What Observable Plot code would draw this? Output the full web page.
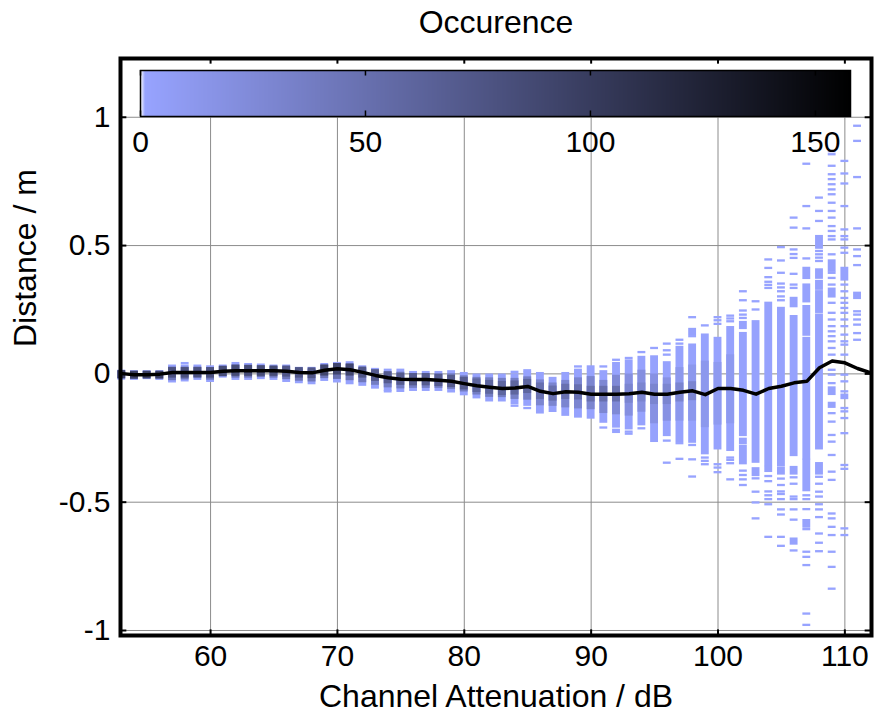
<!DOCTYPE html>
<html>
<head>
<meta charset="utf-8">
<script src="https://cdn.jsdelivr.net/npm/d3@7"></script>
<script src="https://cdn.jsdelivr.net/npm/@observablehq/plot@0.6"></script>
<style>
  body { margin: 0; background: #fff; }
  #wrap { position: relative; width: 874px; height: 714px; }
  #wrap svg { position: absolute; left: 0; top: 0; }
</style>
</head>
<body>
<div id="wrap"></div>
<script>
// ---------- data ----------
const titleText = "Occurence";
const xLabel = "Channel Attenuation / dB";
const yLabel = "Distance / m";
const xTicks = [60, 70, 80, 90, 100, 110];
const yTicks = [-1, -0.5, 0, 0.5, 1];
const colorTicks = [0, 50, 100, 150];

// mean distance per attenuation bin
const meanAtten = [53,54,55,56,57,58,59,60,61,62,63,64,65,66,67,68,69,70,71,72,73,74,75,76,77,78,79,80,81,82,83,84,85,86,87,88,89,90,91,92,93,94,95,96,97,98,99,100,101,102,103,104,105,106,107,108,109,110,111,112];
const meanDistance = [0.001,-0.003,-0.003,-0.001,0.005,0.005,0.005,0.005,0.010,0.012,0.012,0.012,0.012,0.010,0.005,0.004,0.014,0.020,0.016,0.006,-0.006,-0.015,-0.021,-0.022,-0.022,-0.025,-0.029,-0.038,-0.046,-0.052,-0.057,-0.055,-0.049,-0.068,-0.077,-0.070,-0.072,-0.079,-0.079,-0.079,-0.077,-0.072,-0.079,-0.079,-0.072,-0.066,-0.081,-0.057,-0.057,-0.064,-0.079,-0.057,-0.048,-0.035,-0.029,0.024,0.050,0.043,0.021,0.005];

// main (continuous, low-count) band of each column
const bandAtten = [53,54,55,56,57,58,59,60,61,62,63,64,65,66,67,68,69,70,71,72,73,74,75,76,77,78,79,80,81,82,83,84,85,86,87,88,89,90,91,92,93,94,95,96,97,98,99,100,101,102,103,104,105,106,107,108];
const bandLow = [-0.020,-0.021,-0.018,-0.021,-0.031,-0.027,-0.021,-0.029,-0.012,-0.021,-0.021,-0.018,-0.021,-0.029,-0.034,-0.038,-0.025,-0.031,-0.038,-0.044,-0.055,-0.064,-0.068,-0.064,-0.064,-0.064,-0.070,-0.081,-0.093,-0.105,-0.105,-0.116,-0.122,-0.152,-0.146,-0.161,-0.168,-0.172,-0.188,-0.207,-0.214,-0.198,-0.263,-0.240,-0.263,-0.266,-0.311,-0.292,-0.298,-0.240,-0.344,-0.357,-0.357,-0.318,-0.331,-0.292];
const bandHigh = [0.010,0.008,0.008,0.008,0.030,0.030,0.030,0.027,0.030,0.040,0.036,0.034,0.030,0.030,0.021,0.021,0.036,0.040,0.043,0.027,0.017,0.014,0.014,0.005,0.005,0.005,0.008,0.001,-0.005,-0.005,-0.005,-0.004,0.005,0.001,-0.018,0.001,0.014,0.027,0.008,0.040,0.050,0.064,0.066,0.043,0.103,0.112,0.151,0.138,0.180,0.157,0.203,0.275,0.255,0.223,0.138,0.229];

// medium-density part of each column
const midAtten = [53,54,55,56,57,58,59,60,61,62,63,64,65,66,67,68,69,70,71,72,73,74,75,76,77,78,79,80,81,82,83,84,85,86,87,88,89,90,91,92,93,94,95,96,97,98,99,100,101];
const midLow = [-0.016,-0.017,-0.015,-0.017,-0.022,-0.019,-0.014,-0.020,-0.007,-0.012,-0.012,-0.010,-0.012,-0.018,-0.024,-0.027,-0.014,-0.017,-0.022,-0.030,-0.040,-0.050,-0.054,-0.052,-0.052,-0.052,-0.056,-0.066,-0.078,-0.087,-0.088,-0.095,-0.098,-0.120,-0.122,-0.128,-0.132,-0.135,-0.150,-0.155,-0.160,-0.145,-0.190,-0.180,-0.180,-0.180,-0.205,-0.195,-0.190];
const midHigh = [0.007,0.005,0.005,0.005,0.022,0.022,0.022,0.020,0.025,0.032,0.030,0.028,0.025,0.022,0.014,0.014,0.030,0.034,0.034,0.018,0.007,0.002,0.002,-0.004,-0.004,-0.004,-0.004,-0.012,-0.018,-0.020,-0.022,-0.022,-0.016,-0.028,-0.040,-0.030,-0.020,-0.015,-0.030,-0.010,-0.005,0.010,-0.005,-0.020,0.020,0.030,0.045,0.040,0.070];
const midCount = [45,45,45,45,45,45,45,45,45,45,45,45,45,45,45,45,45,50,45,42,38,38,38,38,38,38,38,38,38,38,38,36,36,30,30,30,30,30,28,26,20,20,18,18,12,12,12,10,10];

// densest core of each column (around the mean)
const coreAtten = [53,54,55,56,57,58,59,60,61,62,63,64,65,66,67,68,69,70,71,72,73,74,75,76,77,78,79,80,81,82,83,84,85,86,87,88,89,90,91,92,93,94,95,96,97,98];
const coreLow = [-0.014,-0.016,-0.015,-0.015,-0.012,-0.012,-0.010,-0.012,-0.006,-0.005,-0.005,-0.005,-0.005,-0.008,-0.012,-0.014,-0.004,0.000,-0.004,-0.012,-0.025,-0.034,-0.040,-0.042,-0.042,-0.045,-0.049,-0.058,-0.068,-0.075,-0.080,-0.078,-0.072,-0.095,-0.102,-0.095,-0.097,-0.105,-0.105,-0.105,-0.110,-0.105,-0.115,-0.115,-0.105,-0.100];
const coreHigh = [0.008,0.006,0.006,0.006,0.020,0.020,0.020,0.020,0.025,0.028,0.028,0.027,0.026,0.026,0.020,0.019,0.030,0.036,0.034,0.022,0.012,0.004,-0.002,-0.003,-0.003,-0.006,-0.010,-0.018,-0.024,-0.030,-0.034,-0.032,-0.026,-0.040,-0.052,-0.045,-0.047,-0.053,-0.053,-0.053,-0.045,-0.040,-0.045,-0.045,-0.040,-0.035];
const coreCount = [95,95,95,95,80,80,80,80,85,85,85,85,85,75,75,75,90,90,90,75,70,70,70,70,70,70,70,70,60,60,60,60,60,50,50,50,50,50,50,50,30,30,30,30,30,30];

// extra separate blocks (several adjacent bins)
const blockAtten = [98,102,102,102,103,104,105,106,106,106,107,107,107,107,107,108,108,108,108,108,109,109,109,109,110,110,111];
const blockLow =  [0.154,0.177,-0.272,-0.350,-0.396,-0.380,-0.390,0.262,-0.390,-0.663,0.372,0.281,0.151,-0.455,-0.597,0.490,0.373,0.330,0.240,-0.390,0.400,0.300,-0.080,-0.130,0.366,-0.096,0.294];
const blockHigh = [0.173,0.200,-0.255,-0.283,-0.370,-0.365,-0.367,0.294,-0.365,-0.644,0.411,0.346,0.262,-0.337,-0.572,0.535,0.405,0.360,0.320,-0.350,0.440,0.330,-0.055,-0.115,0.411,-0.083,0.314];

// isolated single-bin dashes, per column
const dashColumns = [58,74,84,85,89,91,92,93,94,95,96,97,98,99,100,101,102,103,104,105,106,107,108,109,110,111];
const dashValues = [
  [0.040],
  [-0.070],
  [0.006,-0.126],
  [0.012,-0.135],
  [0.027],
  [0.027,-0.211],
  [0.053,-0.220,-0.228],
  [0.060,-0.227,-0.235],
  [0.083,-0.214],
  [0.099],
  [0.116,0.090,0.073,-0.262,-0.348],
  [0.131,0.116,-0.272,-0.333],
  [0.219,0.145,-0.279,-0.335,-0.402],
  [0.187,-0.328,-0.341,-0.354],
  [0.219,0.207,0.193,-0.354,-0.367,-0.385],
  [0.225,0.214,0.203,-0.328,-0.337,-0.350,-0.413],
  [0.320,0.285,0.245,0.229,0.216,-0.379,-0.396,-0.413,-0.435],
  [0.281,0.249,-0.409,-0.461,-0.503,-0.565],
  [0.444,0.411,0.375,0.357,0.345,0.333,-0.400,-0.420,-0.460,-0.475,-0.490,-0.510,-0.637],
  [0.492,0.440,0.392,0.350,0.335,0.320,0.300,0.285,-0.410,-0.435,-0.460,-0.470,-0.490,-0.530,-0.550,-0.637,-0.672],
  [0.607,0.568,0.483,0.465,0.450,0.388,0.346,0.333,-0.405,-0.430,-0.480,-0.490,-0.530,-0.570,-0.690],
  [0.817,0.652,0.565,0.448,-0.475,-0.490,-0.529,-0.607,-0.695,-0.715,-0.747,-0.936,-0.980],
  [0.685,0.633,0.594,0.477,0.464,0.451,0.438,-0.403,-0.430,-0.461,-0.480,-0.510,-0.530,-0.560,-0.624,-0.660,-0.693],
  [0.866,0.854,0.809,0.776,0.757,0.737,0.717,0.698,0.665,0.633,0.607,0.574,0.555,0.535,0.522,0.464,0.392,0.372,0.346,0.275,0.236,0.210,0.184,0.164,0.145,0.125,0.099,0.073,0.014,-0.005,-0.038,-0.155,-0.188,-0.240,-0.266,-0.318,-0.383,-0.415,-0.546,-0.565,-0.598,-0.630,-0.695,-0.754,-0.839],
  [0.828,0.779,0.740,0.652,0.561,0.535,0.522,0.490,0.470,0.346,0.320,0.294,0.275,0.255,0.236,0.210,0.184,0.151,0.125,0.112,0.073,-0.005,-0.031,-0.070,-0.135,-0.148,-0.174,-0.233,-0.357,-0.372,-0.604,-0.630],
  [0.965,0.906,0.765,0.565,0.483,0.457,0.422,0.242,0.229,0.210,0.190,0.157,0.131]
];

const lightCount = 2;   // count of sparse cells
const colorMax = 157.8;

// ---------- tables ----------
const halfW = 0.31, halfBin = 0.0045;
const meanRows = meanAtten.map((a, i) => ({a, v: meanDistance[i]}));
const bandRows = bandAtten.map((a, i) => ({a, lo: bandLow[i], hi: bandHigh[i], n: lightCount}));
const blockRows = blockAtten.map((a, i) => ({a, lo: blockLow[i], hi: blockHigh[i], n: lightCount}));
const dashRows = dashColumns.flatMap((a, i) => dashValues[i].map(v => ({a, lo: v, hi: v, n: 1})));
const midRows = midAtten.map((a, i) => ({a, lo: midLow[i], hi: midHigh[i], n: midCount[i]}));
const coreRows = coreAtten.map((a, i) => ({a, lo: coreLow[i], hi: coreHigh[i], n: coreCount[i]}));
const cellRows = [...bandRows, ...blockRows, ...dashRows, ...midRows, ...coreRows];

const xMin = 52.9, xMax = 112.1, yMin = -1.0195, yMax = 1.229;
const font = "'Liberation Sans', Arial, Helvetica, sans-serif";
const colorScale = {type: "linear", domain: [0, 1, colorMax], range: ["#ffffff", "#97a3ff", "#000000"], interpolate: "rgb"};

const main = Plot.plot({
  width: 874, height: 714,
  marginTop: 58, marginBottom: 79, marginLeft: 120, marginRight: 3,
  style: {fontFamily: font, fontSize: "30px", color: "black", background: "white"},
  x: {domain: [xMin, xMax], ticks: xTicks},
  y: {domain: [yMin, yMax], ticks: yTicks},
  color: colorScale,
  marks: [
    Plot.ruleX(xTicks, {x: d => d, y1: yMin, y2: 1, stroke: "#8c8c8c", strokeWidth: 1}),
    Plot.ruleY(yTicks, {y: d => d, x1: xMin, x2: xMax, stroke: "#8c8c8c", strokeWidth: 1}),
    Plot.rect(cellRows, {
      x1: d => d.a - halfW, x2: d => d.a + halfW,
      y1: d => d.lo - halfBin, y2: d => d.hi + halfBin,
      fill: d => d.n
    }),
    Plot.line(meanRows, {x: "a", y: "v", stroke: "black", strokeWidth: 3.5, curve: "linear"}),
    // inward ticks
    Plot.ruleX(xTicks, {x: d => d, y1: yMin, y2: yMin + 0.022, stroke: "black", strokeWidth: 2}),
    Plot.ruleX(xTicks, {x: d => d, y1: yMax, y2: yMax - 0.022, stroke: "black", strokeWidth: 2}),
    Plot.ruleY(yTicks, {y: d => d, x1: xMin, x2: xMin + 0.5, stroke: "black", strokeWidth: 2}),
    Plot.ruleY(yTicks, {y: d => d, x1: xMax, x2: xMax - 0.5, stroke: "black", strokeWidth: 2}),
    Plot.frame({stroke: "black", strokeWidth: 4}),
    Plot.axisX(xTicks, {tickSize: 0, tickPadding: 9, label: null, fontSize: 30}),
    Plot.axisY(yTicks, {tickSize: 0, tickPadding: 10, label: null, fontSize: 30, tickFormat: d => String(d)}),
    Plot.text([titleText], {text: d => d, frameAnchor: "top", dy: -36, fontSize: 32, lineAnchor: "middle"}),
    Plot.text([xLabel], {text: d => d, frameAnchor: "bottom", dy: 61, fontSize: 32, lineAnchor: "middle"}),
    Plot.text([yLabel], {text: d => d, frameAnchor: "left", dx: -95, rotate: -90, fontSize: 32, lineAnchor: "middle"})
  ]
});

const bar = Plot.plot({
  width: 874, height: 714,
  marginTop: 70, marginBottom: 714 - 116, marginLeft: 140, marginRight: 874 - 850,
  style: {fontFamily: font, fontSize: "30px", color: "black", background: "none", overflow: "visible"},
  x: {domain: [0, colorMax]},
  y: {domain: [0, 1], axis: null},
  color: colorScale,
  marks: [
    Plot.raster({x1: 0, x2: colorMax, y1: 0, y2: 1, width: 710, height: 1, fill: (x, y) => x, imageRendering: "auto"}),
    Plot.ruleX(colorTicks, {x: d => d, y1: 0, y2: 0.12, stroke: "black", strokeWidth: 1.5}),
    Plot.ruleX(colorTicks, {x: d => d, y1: 1, y2: 0.88, stroke: "black", strokeWidth: 1.5}),
    Plot.frame({stroke: "black", strokeWidth: 1.5}),
    Plot.axisX(colorTicks, {tickSize: 0, tickPadding: 14, label: null, fontSize: 30})
  ]
});
bar.style.pointerEvents = "none";

const wrap = document.getElementById("wrap");
wrap.appendChild(main);
wrap.appendChild(bar);
</script>
</body>
</html>
